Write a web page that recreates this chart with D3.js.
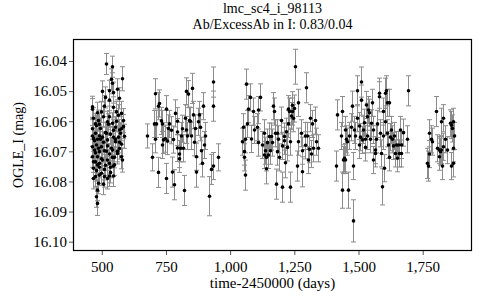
<!DOCTYPE html>
<html>
<head>
<meta charset="utf-8">
<script src="https://cdn.jsdelivr.net/npm/d3@7"></script>
<style>
  body { margin: 0; background: #fff; }
  text { font-family: "Liberation Serif", "Times New Roman", serif; fill: #000; }
</style>
</head>
<body>
<svg id="chart"></svg>
<script>
// light curve, one array per observing season: [day, mag, err]
const season1 = [
  [517,16.0410,.0035],[540,16.0419,.0035],[536,16.0461,.0035],[540,16.0474,.0035],[580,16.0459,.0040],
  [527,16.0499,.0035],[500,16.0501,.0035],[545,16.0505,.0035],[558,16.0494,.0035],[569,16.0524,.0035],
  [514,16.0521,.0035],[527,16.0530,.0035],[461,16.0552,.0035],[463,16.0560,.0035],[481,16.0572,.0035],
  [496,16.0569,.0035],[509,16.0550,.0035],[543,16.0554,.0035],[556,16.0569,.0035],[574,16.0574,.0040],
  [582,16.0598,.0040],[584,16.0618,.0040],[467,16.0590,.0035],[473,16.0609,.0035],[487,16.0598,.0035],
  [493,16.0624,.0035],[504,16.0585,.0035],[520,16.0602,.0035],[530,16.0585,.0035],[539,16.0607,.0035],
  [551,16.0620,.0035],[566,16.0629,.0035],[461,16.0649,.0035],[467,16.0657,.0035],[475,16.0640,.0035],
  [483,16.0660,.0035],[491,16.0649,.0035],[501,16.0653,.0035],[512,16.0638,.0035],[522,16.0662,.0035],
  [532,16.0643,.0035],[543,16.0653,.0035],[553,16.0668,.0035],[564,16.0653,.0035],[576,16.0676,.0040],
  [461,16.0685,.0035],[470,16.0696,.0035],[478,16.0679,.0035],[488,16.0701,.0035],[498,16.0685,.0035],
  [509,16.0698,.0035],[520,16.0682,.0035],[530,16.0709,.0035],[540,16.0696,.0035],[548,16.0720,.0035],
  [558,16.0707,.0035],[569,16.0691,.0035],[579,16.0729,.0040],[462,16.0718,.0035],[473,16.0735,.0035],
  [481,16.0718,.0035],[491,16.0740,.0035],[501,16.0729,.0035],[512,16.0746,.0035],[522,16.0729,.0035],
  [532,16.0753,.0035],[467,16.0756,.0035],[478,16.0764,.0035],[488,16.0753,.0035],[496,16.0773,.0035],
  [545,16.0782,.0035],[467,16.0790,.0035],[475,16.0784,.0035],[486,16.0806,.0035],[504,16.0809,.0035],
  [509,16.0784,.0035],[481,16.0829,.0035],[478,16.0851,.0035],[483,16.0873,.0040],[491,16.0779,.0035],
  [530,16.0782,.0035],[522,16.0790,.0035],[532,16.0770,.0035],[545,16.0749,.0035],[576,16.0718,.0040],
  [463,16.0625,.0035],[470,16.0665,.0035],[476,16.0615,.0035],[485,16.0690,.0035],[490,16.0610,.0035],
  [495,16.0660,.0035],[506,16.0670,.0035],[515,16.0700,.0035],[518,16.0640,.0035],[525,16.0610,.0035],
  [535,16.0690,.0035],[538,16.0720,.0035],[542,16.0630,.0035],[550,16.0660,.0035],[555,16.0600,.0035],
  [560,16.0700,.0035],[567,16.0670,.0035],[572,16.0640,.0035],[465,16.0735,.0035],[472,16.0705,.0035],
  [480,16.0745,.0035],[498,16.0725,.0035],[510,16.0760,.0035],[527,16.0740,.0035],[547,16.0745,.0035],
  [562,16.0580,.0035],[575,16.0625,.0040],[585,16.0650,.0040]
];

const season2 = [
  [675,16.0649,.0040],[695,16.0720,.0045],[704,16.0609,.0045],[709,16.0509,.0050],[706,16.0660,.0045],
  [711,16.0609,.0045],[718,16.0770,.0050],[720,16.0550,.0045],[724,16.0541,.0045],[732,16.0599,.0045],
  [734,16.0609,.0045],[734,16.0679,.0045],[740,16.0662,.0045],[745,16.0658,.0045],[749,16.0790,.0050],
  [752,16.0560,.0045],[754,16.0666,.0045],[757,16.0624,.0045],[763,16.0609,.0045],[769,16.0630,.0045],
  [775,16.0769,.0050],[779,16.0661,.0045],[783,16.0811,.0050],[787,16.0574,.0045],[792,16.0636,.0045],
  [793,16.0600,.0045],[794,16.0689,.0045],[800,16.0709,.0045],[802,16.0725,.0045],[805,16.0690,.0045],
  [808,16.0649,.0045],[813,16.0625,.0045],[818,16.0690,.0045],[820,16.0830,.0050],[823,16.0590,.0045],
  [827,16.0629,.0045],[828,16.0501,.0045],[831,16.0649,.0045],[835,16.0510,.0045],[839,16.0598,.0045],
  [844,16.0600,.0045],[847,16.0649,.0045],[853,16.0491,.0050],[857,16.0579,.0045],[859,16.0670,.0045],
  [863,16.0624,.0045],[867,16.0769,.0050],[868,16.0718,.0045],[876,16.0602,.0045],[880,16.0579,.0045],
  [882,16.0620,.0045],[886,16.0698,.0045],[889,16.0740,.0045],[896,16.0550,.0045],[898,16.0679,.0045],
  [901,16.0649,.0045],[919,16.0849,.0065],[924,16.0760,.0050],[932,16.0550,.0050],[935,16.0470,.0050],
  [935,16.0749,.0045],[952,16.0720,.0045]
];

const season3 = [
  [1048,16.0668,.0045],[1051,16.0620,.0045],[1055,16.0701,.0045],[1055,16.0720,.0045],[1058,16.0660,.0045],
  [1058,16.0779,.0050],[1062,16.0477,.0050],[1065,16.0609,.0045],[1071,16.0560,.0045],[1079,16.0521,.0045],
  [1081,16.0659,.0045],[1090,16.0568,.0045],[1094,16.0629,.0045],[1105,16.0620,.0045],[1110,16.0563,.0045],
  [1110,16.0671,.0045],[1115,16.0521,.0045],[1123,16.0679,.0045],[1131,16.0712,.0045],[1133,16.0640,.0045],
  [1136,16.0698,.0045],[1139,16.0720,.0045],[1141,16.0758,.0050],[1145,16.0671,.0045],[1146,16.0712,.0045],
  [1153,16.0651,.0045],[1155,16.0698,.0045],[1159,16.0651,.0045],[1163,16.0671,.0045],[1167,16.0550,.0045],
  [1170,16.0568,.0045],[1175,16.0640,.0045],[1179,16.0809,.0050],[1181,16.0701,.0045],[1184,16.0640,.0045],
  [1188,16.0660,.0045],[1192,16.0720,.0045],[1198,16.0598,.0045],[1203,16.0819,.0050],[1203,16.0682,.0045],
  [1209,16.0665,.0045],[1211,16.0651,.0045],[1214,16.0738,.0050],[1217,16.0635,.0045],[1220,16.0687,.0045],
  [1224,16.0560,.0045],[1227,16.0609,.0045],[1231,16.0568,.0045],[1232,16.0819,.0050],[1234,16.0668,.0045],
  [1238,16.0583,.0045],[1240,16.0547,.0045],[1242,16.0568,.0045],[1246,16.0590,.0045],[1250,16.0558,.0045],
  [1254,16.0419,.0058],[1259,16.0749,.0050],[1263,16.0539,.0045],[1266,16.0668,.0045],[1276,16.0640,.0045],
  [1281,16.0768,.0050],[1281,16.0698,.0045],[1292,16.0649,.0045],[1292,16.0680,.0045],[1297,16.0489,.0050],
  [1299,16.0649,.0045],[1303,16.0729,.0045],[1307,16.0693,.0045],[1311,16.0590,.0045],[1315,16.0709,.0045],
  [1320,16.0609,.0045],[1324,16.0690,.0045],[1331,16.0598,.0045],[1333,16.0668,.0045],[1341,16.0690,.0045]
];

const season4 = [
  [1412,16.0749,.0050],[1417,16.0579,.0050],[1432,16.0649,.0045],[1435,16.0568,.0050],[1436,16.0829,.0060],
  [1438,16.0729,.0045],[1442,16.0723,.0045],[1446,16.0729,.0045],[1449,16.0629,.0045],[1451,16.0660,.0045],
  [1456,16.0668,.0045],[1460,16.0829,.0060],[1464,16.0649,.0045],[1470,16.0620,.0045],[1475,16.0550,.0050],
  [1477,16.0931,.0070],[1480,16.0749,.0045],[1483,16.0629,.0045],[1488,16.0649,.0045],[1493,16.0499,.0050],
  [1495,16.0590,.0045],[1501,16.0679,.0045],[1503,16.0616,.0045],[1506,16.0653,.0045],[1509,16.0530,.0050],
  [1511,16.0470,.0050],[1514,16.0662,.0045],[1519,16.0629,.0045],[1523,16.0605,.0045],[1524,16.0660,.0045],
  [1527,16.0687,.0045],[1529,16.0546,.0045],[1532,16.0649,.0045],[1534,16.0585,.0045],[1537,16.0563,.0045],
  [1542,16.0572,.0045],[1545,16.0660,.0045],[1550,16.0607,.0045],[1553,16.0539,.0045],[1555,16.0729,.0045],
  [1558,16.0629,.0045],[1563,16.0707,.0045],[1565,16.0696,.0045],[1568,16.0660,.0045],[1573,16.0609,.0045],
  [1579,16.0519,.0050],[1581,16.0507,.0050],[1584,16.0640,.0045],[1586,16.0707,.0045],[1590,16.0818,.0060],
  [1594,16.0649,.0045],[1597,16.0568,.0045],[1599,16.0756,.0045],[1602,16.0507,.0050],[1604,16.0602,.0045],
  [1607,16.0499,.0050],[1610,16.0539,.0045],[1612,16.0640,.0045],[1616,16.0679,.0045],[1619,16.0539,.0045],
  [1620,16.0720,.0045],[1623,16.0653,.0045],[1628,16.0629,.0045],[1630,16.0660,.0045],[1633,16.0682,.0045],
  [1638,16.0649,.0045],[1641,16.0707,.0045],[1646,16.0679,.0045],[1649,16.0723,.0045],[1654,16.0679,.0045],
  [1657,16.0707,.0045],[1662,16.0629,.0045],[1664,16.0679,.0045],[1667,16.0707,.0045],[1672,16.0638,.0045],
  [1690,16.0660,.0045],[1694,16.0499,.0050]
];

const season5 = [
  [1768,16.0740,.0050],[1771,16.0749,.0050],[1773,16.0709,.0045],[1776,16.0640,.0045],[1781,16.0660,.0045],
  [1786,16.0668,.0045],[1802,16.0568,.0050],[1807,16.0690,.0045],[1812,16.0696,.0045],[1812,16.0718,.0045],
  [1817,16.0701,.0045],[1820,16.0602,.0045],[1822,16.0696,.0045],[1825,16.0749,.0045],[1828,16.0590,.0045],
  [1830,16.0685,.0045],[1836,16.0660,.0045],[1843,16.0696,.0045],[1856,16.0607,.0045],[1859,16.0613,.0045],
  [1861,16.0749,.0045],[1864,16.0624,.0045],[1867,16.0740,.0045],[1869,16.0690,.0045],[1872,16.0649,.0045],
  [1869,16.0602,.0045]
];

const xTicks = [500, 750, 1000, 1250, 1500, 1750];
const yTicks = [16.04, 16.05, 16.06, 16.07, 16.08, 16.09, 16.10];
const titleLines = ["lmc_sc4_i_98113", "Ab/ExcessAb in I: 0.83/0.04"];

const points = season1.concat(season2, season3, season4, season5);

const W = 480, H = 300;
const margin = { top: 39, right: 8, bottom: 49, left: 73 },
      width = W - margin.left - margin.right,
      height = H - margin.top - margin.bottom;

const svg = d3.select("#chart").attr("width", W).attr("height", H);
const g = svg.append("g").attr("transform", `translate(${margin.left},${margin.top})`);

const x = d3.scaleLinear().domain([388, 1942]).range([0, width]);
// magnitudes: brighter at the top
const y = d3.scaleLinear().domain([16.0327, 16.1031]).range([0, height]);

// error bars
const bars = g.append("g").attr("stroke", "#8c8c8c").attr("stroke-width", 1).attr("fill", "none");
bars.selectAll("path")
  .data(points)
  .join("path")
  .attr("d", d => {
    const cx = Math.round(x(d[0])) + 0.5,
          y0 = y(d[1] - d[2]), y1 = y(d[1] + d[2]);
    return `M${cx},${y0}V${y1}M${cx - 2.5},${y0}H${cx + 2.5}M${cx - 2.5},${y1}H${cx + 2.5}`;
  });

// points
g.append("g").selectAll("circle")
  .data(points)
  .join("circle")
  .attr("cx", d => Math.round(x(d[0])) + 0.5)
  .attr("cy", d => y(d[1]))
  .attr("r", 1.8)
  .attr("fill", "#000");

// axes
const xAxis = g.append("g")
  .attr("transform", `translate(0,${height})`)
  .call(d3.axisBottom(x).tickValues(xTicks).tickFormat(d3.format(",")).tickSizeOuter(0).tickSize(4));
const yAxis = g.append("g")
  .call(d3.axisLeft(y).tickValues(yTicks).tickFormat(d3.format(".2f")).tickSizeOuter(0).tickSize(4));

[xAxis, yAxis].forEach(a => {
  a.select(".domain").remove();
  a.selectAll(".tick line").attr("stroke", "#555");
  a.selectAll(".tick text")
    .style("font-family", '"Liberation Serif", serif')
    .style("font-size", "15px")
    .attr("fill", "#000");
});
xAxis.selectAll(".tick text").attr("dy", "1em").attr("y", 6);
yAxis.selectAll(".tick text").attr("x", -6);

// frame
g.append("rect")
  .attr("x", 0.5).attr("y", 0.5)
  .attr("width", width - 1).attr("height", height - 1)
  .attr("fill", "none").attr("stroke", "#000").attr("stroke-width", 1.2);

// titles
svg.append("g").selectAll("text")
  .data(titleLines)
  .join("text")
  .attr("x", margin.left + width / 2)
  .attr("y", (d, i) => 13 + i * 16)
  .attr("text-anchor", "middle")
  .style("font-size", "14px")
  .text(d => d);

svg.append("text")
  .attr("x", margin.left + width / 2)
  .attr("y", 288)
  .attr("text-anchor", "middle")
  .style("font-size", "15px")
  .text("time-2450000 (days)");

svg.append("text")
  .attr("text-anchor", "middle")
  .attr("transform", `translate(23,${margin.top + height / 2}) rotate(-90)`)
  .style("font-size", "14px")
  .text("OGLE_I (mag)");
</script>
</body>
</html>
